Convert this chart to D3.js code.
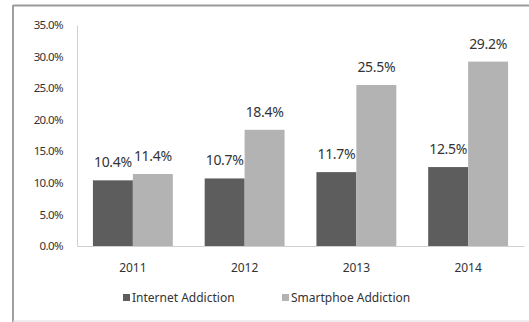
<!DOCTYPE html>
<html>
<head>
<meta charset="utf-8">
<script src="https://cdn.jsdelivr.net/npm/d3@7"></script>
<style>
  html, body { margin: 0; padding: 0; background: #fff; }
  #chart { width: 529px; height: 322px; }
</style>
</head>
<body>
<div id="chart"></div>
<script>
const years = ['2011', '2012', '2013', '2014'];
const seriesNames = ['Internet Addiction', 'Smartphoe Addiction'];
const internetValues = [10.4, 10.7, 11.7, 12.5];
const smartphoneValues = [11.4, 18.4, 25.5, 29.2];
const yTicks = [0, 5, 10, 15, 20, 25, 30, 35];
const seriesColors = ['#5d5d5d', '#b3b3b3'];

const fontFamily = "'Noto Sans', 'Open Sans', sans-serif";
const element = document.getElementById('chart');
const margin = { top: 25, right: 5, bottom: 76, left: 77 };
const width = 529 - margin.left - margin.right;
const height = 322 - margin.top - margin.bottom;

const data = years.map((year, i) => ({
    year: year,
    values: [internetValues[i], smartphoneValues[i]]
}));

const svg = d3.select(element)
    .append('svg')
    .attr('width', 529)
    .attr('height', 322);

// outer frame
svg.append('line').attr('x1', 13).attr('x2', 529).attr('y1', 5.5).attr('y2', 5.5)
    .style('stroke', '#9a9a9a').style('stroke-width', '2px');
svg.append('line').attr('x1', 13).attr('x2', 13).attr('y1', 5).attr('y2', 322)
    .style('stroke', '#a0a0a0').style('stroke-width', '2px');
svg.append('line').attr('x1', 13).attr('x2', 529).attr('y1', 321).attr('y2', 321)
    .style('stroke', '#dcdcdc').style('stroke-width', '1px');

const g = svg.append('g')
    .attr('transform', `translate(${margin.left},${margin.top})`);

const x0 = d3.scaleBand()
    .domain(years)
    .range([0, width])
    .paddingInner(0.285)
    .paddingOuter(0.1425);

const x1 = d3.scaleBand()
    .domain(seriesNames)
    .range([0, x0.bandwidth()]);

const y = d3.scaleLinear()
    .domain([0, 35])
    .range([height, 0]);

// y axis
const yAxis = g.append('g')
    .call(d3.axisLeft(y).tickValues(yTicks).tickSize(0).tickPadding(14)
        .tickFormat(d => d.toFixed(1) + '%'));
yAxis.select('.domain').style('stroke', '#d0d0d0');
yAxis.selectAll('text')
    .style('font-size', '11.5px')
    .style('font-family', fontFamily)
    .style('fill', '#333')
    .style('letter-spacing', '-0.6px');

// x axis
const xAxis = g.append('g')
    .attr('transform', `translate(0,${height})`)
    .call(d3.axisBottom(x0).tickSize(0).tickPadding(17));
xAxis.select('.domain').style('stroke', '#d0d0d0');
xAxis.selectAll('text')
    .style('font-size', '12px')
    .style('font-family', fontFamily)
    .style('fill', '#333');

// bars and labels
const groups = g.selectAll('.year-group')
    .data(data)
    .enter()
    .append('g')
    .attr('class', 'year-group')
    .attr('transform', d => `translate(${x0(d.year)},0)`);

groups.selectAll('rect')
    .data(d => d.values.map((v, i) => ({ name: seriesNames[i], value: v, idx: i })))
    .enter()
    .append('rect')
    .attr('x', d => x1(d.name))
    .attr('y', d => y(d.value))
    .attr('width', x1.bandwidth())
    .attr('height', d => height - y(d.value))
    .attr('fill', d => seriesColors[d.idx]);

groups.selectAll('.value-label')
    .data(d => d.values.map((v, i) => ({ name: seriesNames[i], value: v })))
    .enter()
    .append('text')
    .attr('class', 'value-label')
    .attr('x', d => x1(d.name) + x1.bandwidth() / 2)
    .attr('y', d => y(d.value) - 13)
    .attr('text-anchor', 'middle')
    .style('font-size', '14px')
    .style('font-family', fontFamily)
    .style('fill', '#333')
    .style('letter-spacing', '-0.3px')
    .text(d => d.value.toFixed(1) + '%');

// legend
const legendItems = [
    { name: seriesNames[0], color: seriesColors[0], x: 123 },
    { name: seriesNames[1], color: seriesColors[1], x: 282 }
];
const legend = svg.append('g').attr('transform', 'translate(0,298)');
legendItems.forEach(item => {
    legend.append('rect')
        .attr('x', item.x)
        .attr('y', -4)
        .attr('width', 7)
        .attr('height', 7)
        .attr('fill', item.color);
    legend.append('text')
        .attr('x', item.x + 9)
        .attr('y', 0)
        .attr('dy', '0.35em')
        .style('font-size', '12px')
        .style('font-family', fontFamily)
        .style('fill', '#333')
        .text(item.name);
});
</script>
</body>
</html>
